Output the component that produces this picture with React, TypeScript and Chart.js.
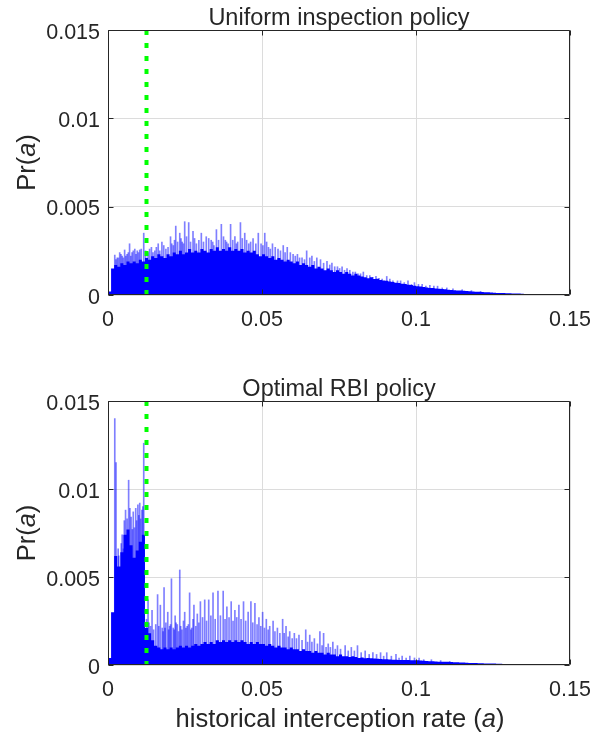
import React, { useEffect, useRef } from 'react';
import { Chart, registerables } from 'chart.js';

Chart.register(...registerables);

const FONT = '"Liberation Sans", Arial, Helvetica, sans-serif';
const TEXT_COLOR = '#262626';

const BIN_WIDTH = 0.001;
const X_MIN = 0;
const X_MAX = 0.15;
const Y_MIN = 0;
const Y_MAX = 0.015;
const xTickValues = [0, 0.05, 0.1, 0.15];
const xTickLabels = ['0', '0.05', '0.1', '0.15'];
const yTickValues = [0, 0.005, 0.01, 0.015];
const yTickLabels = ['0', '0.005', '0.01', '0.015'];
const thresholdRate = 0.0125;

// Uniform inspection policy: dense histogram body (bins of 0.001)
const uniformBase = [
  0.0002, 0.0015, 0.0017, 0.0016, 0.0018, 0.0017, 0.0019, 0.0018, 0.0019, 0.0018,
  0.0020, 0.0019, 0.0021, 0.0020, 0.0022, 0.0021, 0.0023, 0.0022, 0.0021, 0.0023,
  0.0022, 0.0024, 0.0023, 0.0025, 0.0023, 0.0024, 0.0026, 0.0024, 0.0025, 0.0024,
  0.0026, 0.0025, 0.0024, 0.0026, 0.0025, 0.0027, 0.0025, 0.0026, 0.0025, 0.0027,
  0.0025, 0.0026, 0.0025, 0.0026, 0.0024, 0.0025, 0.0024, 0.0025, 0.0023, 0.0022,
  0.0023, 0.0022, 0.0021, 0.0022, 0.0020, 0.0021, 0.0020, 0.0019, 0.0020, 0.0019,
  0.0018, 0.0019, 0.0017, 0.0018, 0.0017, 0.0016, 0.0017, 0.0015, 0.0016, 0.0015,
  0.0014, 0.0015, 0.0014, 0.0013, 0.0014, 0.0013, 0.0012, 0.0013, 0.0012, 0.0011,
  0.0012, 0.0011, 0.00105, 0.0010, 0.00095, 0.0010, 0.0009, 0.00092, 0.00085, 0.00082,
  0.0008, 0.00076, 0.00074, 0.0007, 0.00068, 0.00064, 0.00062, 0.00058, 0.00056, 0.00052,
  0.0005, 0.00048, 0.00045, 0.00043, 0.0004, 0.00039, 0.00037, 0.00035, 0.00034, 0.00032,
  0.0003, 0.00029, 0.00027, 0.00026, 0.00025, 0.00024, 0.00023, 0.00021, 0.0002, 0.00019,
  0.00018, 0.00017, 0.00016, 0.00015, 0.00014, 0.00013, 0.00012, 0.00012, 0.00011, 0.0001,
  0.0001, 0.00009, 0.00008, 0.00008, 0.00007, 0.00006, 0.00006, 0.00005, 0.00005, 0.00004,
  0.00004, 0.00003, 0.00003, 0.00003, 0.00002, 0.00002, 0.00002, 0.00001, 0.00001, 0.00001,
];

// Uniform inspection policy: isolated tall bins
const uniformSpikeRates = [
  0.0022, 0.0030, 0.0038, 0.0046, 0.0054, 0.0062, 0.0070, 0.0078, 0.0087, 0.0095,
  0.0103, 0.0116, 0.0130, 0.0141, 0.0152, 0.0163, 0.0175, 0.0188, 0.0203, 0.0212,
  0.0220, 0.0233, 0.0241, 0.0249, 0.0262, 0.0276, 0.0287, 0.0303, 0.0319, 0.0335,
  0.0344, 0.0352, 0.0368, 0.0381, 0.0390, 0.0398, 0.0412, 0.0421, 0.0430, 0.0444,
  0.0457, 0.0471, 0.0488, 0.0497, 0.0509, 0.0521, 0.0534, 0.0552, 0.0569, 0.0582,
  0.0592, 0.0601, 0.0615, 0.0630, 0.0645, 0.0655, 0.0662, 0.0678, 0.0690, 0.0711,
  0.0727, 0.0745, 0.0760, 0.0776, 0.0795, 0.0812, 0.0829, 0.0850, 0.0870, 0.0890,
  0.0905, 0.0925, 0.0950, 0.0974, 0.0995, 0.1020, 0.1045, 0.1070, 0.1100,
  0.0026, 0.0034, 0.0042, 0.0050, 0.0058, 0.0066, 0.0074, 0.0082, 0.0091, 0.0099,
  0.0108, 0.0122, 0.0135, 0.0146, 0.0157, 0.0168, 0.0181, 0.0195, 0.0207, 0.0216,
  0.0226, 0.0237, 0.0245, 0.0255, 0.0268, 0.0281, 0.0295, 0.0310, 0.0327, 0.0340,
  0.0359, 0.0375, 0.0385, 0.0405, 0.0417, 0.0436, 0.0450, 0.0463, 0.0480, 0.0503,
  0.0515, 0.0527, 0.0543, 0.0560, 0.0575, 0.0608, 0.0622, 0.0638, 0.0670, 0.0700,
  0.0720, 0.0736, 0.0752, 0.0768, 0.0785, 0.0803, 0.0820, 0.0840, 0.0860, 0.0880,
  0.0915, 0.0940, 0.0962, 0.0985, 0.1008, 0.1032, 0.1058, 0.1085, 0.1120, 0.1150,
  0.1180, 0.1210,
];
const uniformSpikeValues = [
  0.00226, 0.0021, 0.0024, 0.0022, 0.00255, 0.0023, 0.0029, 0.0024, 0.0026, 0.0025,
  0.00255, 0.0035, 0.0024, 0.0027, 0.0025, 0.0029, 0.0030, 0.0026, 0.0033, 0.0028,
  0.0039, 0.0035, 0.0030, 0.00415, 0.0041, 0.0036, 0.0029, 0.0035, 0.0033, 0.0031,
  0.0028, 0.0037, 0.0040, 0.0031, 0.0029, 0.0040, 0.0033, 0.0030, 0.0041, 0.0035,
  0.0029, 0.0032, 0.0035, 0.0029, 0.0035, 0.0027, 0.0029, 0.0026, 0.0028, 0.0027,
  0.0024, 0.0023, 0.0023, 0.0021, 0.0025, 0.0021, 0.0022, 0.0021, 0.0020, 0.0019,
  0.0018, 0.0016, 0.0016, 0.0015, 0.0013, 0.0012, 0.0013, 0.0011, 0.00105, 0.0009,
  0.00105, 0.0008, 0.0008, 0.0008, 0.0007, 0.0006, 0.00055, 0.0005, 0.0004,
  0.0020, 0.0021, 0.0023, 0.0021, 0.0022, 0.0024, 0.0022, 0.0025, 0.0023, 0.0024,
  0.0026, 0.0025, 0.0026, 0.0024, 0.0027, 0.0025, 0.0028, 0.0027, 0.0029, 0.0031,
  0.0030, 0.0032, 0.0029, 0.0033, 0.0030, 0.0032, 0.0031, 0.0030, 0.0032, 0.0030,
  0.0031, 0.0033, 0.0030, 0.0031, 0.0029, 0.0032, 0.0031, 0.0030, 0.0029, 0.0028,
  0.0030, 0.0026, 0.0027, 0.0025, 0.0024, 0.0022, 0.0021, 0.0020, 0.0019, 0.0018,
  0.0017, 0.0016, 0.0015, 0.0014, 0.0014, 0.0013, 0.0012, 0.0011, 0.0010, 0.00095,
  0.0009, 0.0008, 0.0007, 0.0006, 0.0006, 0.0005, 0.0005, 0.0004, 0.00035, 0.0003,
  0.00025, 0.0002,
];

// Optimal RBI policy: dense histogram body (bins of 0.001)
const rbiBase = [
  0.0004, 0.0030, 0.0062, 0.0056, 0.0064, 0.0074, 0.0077, 0.0068, 0.0061, 0.0065,
  0.0070, 0.0074, 0.0021, 0.0018, 0.0014, 0.0011, 0.0010, 0.0009, 0.0010, 0.0009,
  0.0010, 0.0009, 0.0010, 0.0011, 0.0010, 0.0011, 0.0010, 0.0011, 0.0012, 0.0011,
  0.0012, 0.0013, 0.0012, 0.0013, 0.0012, 0.0014, 0.0013, 0.0014, 0.0013, 0.0014,
  0.0013, 0.0014, 0.0013, 0.0014, 0.0013, 0.0012, 0.0013, 0.0012, 0.0013, 0.0012,
  0.0012, 0.0011, 0.0012, 0.0011, 0.0010, 0.0011, 0.0010, 0.0010, 0.0009, 0.0010,
  0.0009, 0.0009, 0.0008, 0.0009, 0.0008, 0.0008, 0.0007, 0.0008, 0.0007, 0.0007,
  0.0006, 0.0007, 0.0006, 0.0006, 0.0005, 0.0006, 0.0005, 0.0005, 0.00045, 0.0005,
  0.00045, 0.0004, 0.00042, 0.00038, 0.0004, 0.00038, 0.00037, 0.00035, 0.00034, 0.00033,
  0.00032, 0.00031, 0.0003, 0.0003, 0.00029, 0.00029, 0.00028, 0.00028, 0.00027, 0.00027,
  0.00027, 0.00025, 0.00024, 0.00023, 0.00022, 0.00021, 0.0002, 0.00019, 0.00019, 0.00018,
  0.00018, 0.00017, 0.00016, 0.00015, 0.00014, 0.00014, 0.00013, 0.00012, 0.00011, 0.00011,
  0.0001, 0.0001, 0.00009, 0.00009, 0.00008, 0.00008, 0.00007, 0.00007, 0.00006, 0.00006,
  0.00005, 0.00005, 0.00005, 0.00004, 0.00004, 0.00003, 0.00003, 0.00003, 0.00002, 0.00002,
  0.00002, 0.00002, 0.00001, 0.00001, 0.00001, 0.00001, 0.00001, 0, 0, 0,
];

// Optimal RBI policy: isolated tall bins
const rbiSpikeRates = [
  0.0022, 0.0026, 0.0033, 0.0043, 0.0050, 0.0057, 0.0062, 0.0067, 0.0075, 0.0082,
  0.0090, 0.0097, 0.0103, 0.0110, 0.0116, 0.0130, 0.0138, 0.0143, 0.0155, 0.0161,
  0.0170, 0.0176, 0.0182, 0.0188, 0.0194, 0.0200, 0.0206, 0.0212, 0.0218, 0.0225,
  0.0233, 0.0240, 0.0249, 0.0257, 0.0265, 0.0272, 0.0279, 0.0285, 0.0290, 0.0300,
  0.0314, 0.0327, 0.0341, 0.0357, 0.0374, 0.0386, 0.0400, 0.0412, 0.0425, 0.0440,
  0.0455, 0.0464, 0.0477, 0.0490, 0.0502, 0.0514, 0.0525, 0.0536, 0.0550, 0.0567,
  0.0578, 0.0590, 0.0605, 0.0620, 0.0642, 0.0655, 0.0670, 0.0688, 0.0700, 0.0715,
  0.0730, 0.0745, 0.0770, 0.0790, 0.0810, 0.0835, 0.0860, 0.0885, 0.0905, 0.0935,
  0.0955, 0.0980, 0.1010,
  0.0035, 0.0046, 0.0053, 0.0071, 0.0079, 0.0086, 0.0093, 0.0100, 0.0106, 0.0113,
  0.0125, 0.0133, 0.0148, 0.0165, 0.0179, 0.0185, 0.0197, 0.0203, 0.0215, 0.0221,
  0.0229, 0.0236, 0.0245, 0.0253, 0.0261, 0.0269, 0.0276, 0.0295, 0.0307, 0.0320,
  0.0334, 0.0348, 0.0365, 0.0380, 0.0393, 0.0406, 0.0418, 0.0432, 0.0447, 0.0470,
  0.0484, 0.0496, 0.0508, 0.0520, 0.0542, 0.0558, 0.0572, 0.0585, 0.0598, 0.0612,
  0.0630, 0.0648, 0.0662, 0.0680, 0.0695, 0.0708, 0.0722, 0.0738, 0.0755, 0.0780,
  0.0800, 0.0822, 0.0848, 0.0872, 0.0895, 0.0920, 0.0945, 0.0968, 0.0995, 0.1025,
  0.1050, 0.1080, 0.1110,
];
const rbiSpikeValues = [
  0.0140, 0.0115, 0.0066, 0.0069, 0.0066, 0.0088, 0.0083, 0.0105, 0.0084, 0.0087,
  0.0089, 0.0091, 0.0092, 0.0088, 0.0126, 0.0037, 0.0022, 0.0031, 0.0023, 0.0040,
  0.0034, 0.0021, 0.0044, 0.0024, 0.0030, 0.0022, 0.0049, 0.0021, 0.0028, 0.0023,
  0.0054, 0.0020, 0.0030, 0.0022, 0.0041, 0.0021, 0.0034, 0.0022, 0.0029, 0.0036,
  0.0037, 0.0037, 0.0041, 0.0042, 0.0042, 0.0033, 0.0036, 0.0031, 0.0034, 0.0036,
  0.0030, 0.0036, 0.0035, 0.0027, 0.0030, 0.0026, 0.0022, 0.0025, 0.0021, 0.0026,
  0.0022, 0.0019, 0.0018, 0.0017, 0.0020, 0.0017, 0.0015, 0.0019, 0.0018, 0.0012,
  0.0013, 0.0011, 0.0011, 0.0010, 0.0011, 0.0008, 0.0007, 0.0007, 0.0007, 0.0006,
  0.0005, 0.0005, 0.0004,
  0.0062, 0.0074, 0.0082, 0.0089, 0.0077, 0.0078, 0.0082, 0.0085, 0.0083, 0.0090,
  0.0026, 0.0024, 0.0020, 0.0022, 0.0019, 0.0021, 0.0020, 0.0023, 0.0020, 0.0024,
  0.0019, 0.0022, 0.0025, 0.0021, 0.0023, 0.0020, 0.0026, 0.0024, 0.0027, 0.0025,
  0.0028, 0.0026, 0.0028, 0.0026, 0.0027, 0.0025, 0.0027, 0.0026, 0.0025, 0.0024,
  0.0023, 0.0022, 0.0021, 0.0020, 0.0019, 0.0018, 0.0018, 0.0016, 0.0015, 0.0015,
  0.0014, 0.0013, 0.0013, 0.0012, 0.0011, 0.0010, 0.0010, 0.0009, 0.0009, 0.0008,
  0.0008, 0.0007, 0.0006, 0.0006, 0.0005, 0.0005, 0.0004, 0.0004, 0.0004, 0.0003,
  0.0003, 0.00025, 0.0002,
];

type PanelProps = {
  title: string;
  base: number[];
  spikeRates: number[];
  spikeValues: number[];
  width: number;
  height: number;
  plotTop: number;
  plotLeft: number;
  plotRightPad: number;
  xAxisHeight: number;
  showXLabel: boolean;
  top: number;
};

function drawMixed(
  ctx: CanvasRenderingContext2D,
  parts: { text: string; italic: boolean }[],
  size: number,
  cx: number,
  baseline: number
) {
  const fonts = parts.map((p) => `${p.italic ? 'italic ' : ''}${size}px ${FONT}`);
  let total = 0;
  const widths = parts.map((p, i) => {
    ctx.font = fonts[i];
    const w = ctx.measureText(p.text).width;
    total += w;
    return w;
  });
  let x = cx - total / 2;
  ctx.textAlign = 'left';
  ctx.textBaseline = 'alphabetic';
  parts.forEach((p, i) => {
    ctx.font = fonts[i];
    ctx.fillText(p.text, x, baseline);
    x += widths[i];
  });
}

function HistPanel(props: PanelProps) {
  const ref = useRef<HTMLCanvasElement | null>(null);

  useEffect(() => {
    const canvas = ref.current;
    if (!canvas) return;
    const { base, spikeRates, spikeValues, title, showXLabel } = props;

    const baseData = base.map((v, i) => ({ x: i * BIN_WIDTH, y: v }));
    baseData.push({ x: base.length * BIN_WIDTH, y: 0 });
    const spikeData = spikeRates.map((r, i) => ({ x: r, y: spikeValues[i] }));
    const thresholdData = [
      { x: thresholdRate, y: Y_MAX },
      { x: thresholdRate, y: Y_MIN },
    ];

    const matlabAxes = {
      id: 'matlabAxes',
      afterDatasetsDraw(chart: any) {
        const ctx: CanvasRenderingContext2D = chart.ctx;
        const { left, right, top, bottom } = chart.chartArea;
        const xs = chart.scales.x;
        const ys = chart.scales.y;
        ctx.save();
        ctx.strokeStyle = TEXT_COLOR;
        ctx.lineWidth = 1;
        const L = Math.round(left) + 0.5;
        const R = Math.round(right) - 0.5;
        const T = Math.round(top) + 0.5;
        const B = Math.round(bottom) - 0.5;
        ctx.beginPath();
        ctx.rect(L, T, R - L, B - T);
        ctx.stroke();
        const tl = 5;
        ctx.beginPath();
        xTickValues.forEach((v) => {
          const px = Math.round(xs.getPixelForValue(v)) + 0.5;
          ctx.moveTo(px, B);
          ctx.lineTo(px, B - tl);
          ctx.moveTo(px, T);
          ctx.lineTo(px, T + tl);
        });
        yTickValues.forEach((v) => {
          const py = Math.round(ys.getPixelForValue(v)) + 0.5;
          ctx.moveTo(L, py);
          ctx.lineTo(L + tl, py);
          ctx.moveTo(R, py);
          ctx.lineTo(R - tl, py);
        });
        ctx.stroke();

        // tick labels
        ctx.fillStyle = TEXT_COLOR;
        ctx.font = `21.5px ${FONT}`;
        ctx.textBaseline = 'alphabetic';
        ctx.textAlign = 'right';
        yTickValues.forEach((v, i) => {
          const py = ys.getPixelForValue(v);
          ctx.fillText(yTickLabels[i], left - 8, py + 8.7);
        });
        ctx.textAlign = 'center';
        xTickValues.forEach((v, i) => {
          const px = xs.getPixelForValue(v);
          ctx.fillText(xTickLabels[i], px, bottom + 31);
        });

        // title
        ctx.font = `23.5px ${FONT}`;
        ctx.textAlign = 'center';
        ctx.fillText(title, (left + right) / 2, top - 5.5);

        // y label, rotated
        ctx.save();
        ctx.translate(35, (top + bottom) / 2);
        ctx.rotate(-Math.PI / 2);
        drawMixed(
          ctx,
          [
            { text: 'Pr(', italic: false },
            { text: 'a', italic: true },
            { text: ')', italic: false },
          ],
          25.5,
          0,
          0
        );
        ctx.restore();

        if (showXLabel) {
          drawMixed(
            ctx,
            [
              { text: 'historical interception rate (', italic: false },
              { text: 'a', italic: true },
              { text: ')', italic: false },
            ],
            25.5,
            (left + right) / 2 + 1,
            bottom + 62
          );
        }
        ctx.restore();
      },
    };

    const chart = new Chart(canvas, {
      type: 'line',
      data: {
        datasets: [
          {
            type: 'line',
            label: 'threshold',
            data: thresholdData,
            borderColor: '#00ff00',
            borderWidth: 4,
            borderDash: [5, 8],
            borderCapStyle: 'butt',
            pointRadius: 0,
            fill: false,
            order: 0,
          },
          {
            type: 'bar',
            label: 'spikes',
            data: spikeData,
            backgroundColor: 'rgba(0,0,255,0.5)',
            borderWidth: 0,
            barThickness: 1,
            order: 1,
          },
          {
            type: 'line',
            label: 'Pr(a)',
            data: baseData,
            stepped: true,
            fill: 'origin',
            backgroundColor: '#0000ff',
            borderColor: 'rgba(0,0,255,0)',
            borderWidth: 1,
            pointRadius: 0,
            order: 2,
          },
        ],
      } as any,
      options: {
        responsive: false,
        animation: false,
        devicePixelRatio: 1,
        events: [],
        layout: {
          padding: { top: props.plotTop, right: props.plotRightPad, left: 0, bottom: 0 },
        },
        plugins: {
          legend: { display: false },
          tooltip: { enabled: false },
          title: { display: false },
        },
        scales: {
          x: {
            type: 'linear',
            min: X_MIN,
            max: X_MAX,
            offset: false,
            afterBuildTicks: (s: any) => {
              s.ticks = xTickValues.map((v) => ({ value: v }));
            },
            afterFit: (s: any) => {
              s.height = props.xAxisHeight;
            },
            ticks: { display: false },
            grid: { color: '#dcdcdc', drawTicks: false, offset: false, lineWidth: 1 },
            border: { display: false },
          },
          y: {
            type: 'linear',
            min: Y_MIN,
            max: Y_MAX,
            afterBuildTicks: (s: any) => {
              s.ticks = yTickValues.map((v) => ({ value: v }));
            },
            afterFit: (s: any) => {
              s.width = props.plotLeft;
            },
            ticks: { display: false },
            grid: { color: '#dcdcdc', drawTicks: false, lineWidth: 1 },
            border: { display: false },
          },
        },
      } as any,
      plugins: [matlabAxes],
    });

    return () => {
      chart.destroy();
    };
  }, []);

  return (
    <canvas
      ref={ref}
      width={props.width}
      height={props.height}
      style={{
        position: 'absolute',
        left: 0,
        top: props.top,
        width: props.width,
        height: props.height,
        display: 'block',
      }}
    />
  );
}

export default function App() {
  return (
    <div
      style={{
        position: 'absolute',
        left: 0,
        top: 0,
        width: 593,
        height: 736,
        background: '#ffffff',
        overflow: 'hidden',
      }}
    >
      <HistPanel
        title="Uniform inspection policy"
        base={uniformBase}
        spikeRates={uniformSpikeRates}
        spikeValues={uniformSpikeValues}
        width={593}
        height={360}
        top={0}
        plotTop={30}
        plotLeft={108}
        plotRightPad={23}
        xAxisHeight={65}
        showXLabel={false}
      />
      <HistPanel
        title="Optimal RBI policy"
        base={rbiBase}
        spikeRates={rbiSpikeRates}
        spikeValues={rbiSpikeValues}
        width={593}
        height={376}
        top={360}
        plotTop={41}
        plotLeft={108}
        plotRightPad={23}
        xAxisHeight={71}
        showXLabel={true}
      />
    </div>
  );
}
